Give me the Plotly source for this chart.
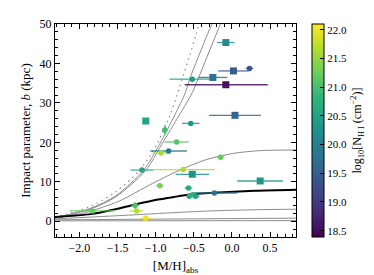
import plotly.graph_objects as go
from plotly.colors import sample_colorscale

# ---------------- data ----------------
# absorbers drawn as squares
sq_mh = [-0.08, 0.02, -0.25, -0.08, -1.13, 0.04, -0.52, 0.37]
sq_b = [45.3, 38.1, 36.45, 34.6, 25.4, 26.85, 11.9, 10.2]
sq_xlo = [0.115, 0.20, 0.19, 0.54, 0.02, 0.34, 0.22, 0.30]
sq_xhi = [0.115, 0.20, 0.19, 0.55, 0.02, 0.34, 0.22, 0.30]
sq_berr = [0, 0, 0, 0, 0, 0, 0, 0]
sq_nhi = [20.2, 19.45, 19.75, 18.55, 20.55, 19.6, 20.3, 20.35]

# absorbers drawn as circles
ci_mh = [0.23, -0.52, -0.54, -0.88, -0.725, -0.83, -0.93, -0.15, -1.18, -0.64,
         -0.945, -0.57, -0.23, -0.56, -0.51, -0.475, -1.83, -1.27, -1.25, -1.13]
ci_b = [38.75, 36.0, 24.8, 23.15, 20.1, 17.8, 17.3, 16.25, 12.97, 13.1,
        9.0, 8.4, 7.15, 6.3, 6.7, 6.3, 2.6, 4.0, 2.6, 0.74]
ci_xlo = [0.05, 0.30, 0.115, 0.02, 0.16, 0.24, 0.11, 0.05, 0.15, 0.39,
          0.05, 0.05, 0.30, 0.03, 0.04, 0.05, 0.30, 0.05, 0.09, 0.07]
ci_xhi = [0.05, 0.26, 0.115, 0.02, 0.16, 0.24, 0.11, 0.05, 0.15, 0.42,
          0.05, 0.05, 0.30, 0.03, 0.04, 0.05, 0.30, 0.05, 0.09, 0.07]
ci_berr = [0, 0, 0, 1.3, 0, 0, 0, 0.6, 0, 0,
           0, 0.4, 0, 0, 0.7, 0, 0, 0.9, 0, 0]
ci_nhi = [19.35, 20.4, 20.3, 20.95, 21.1, 19.9, 21.6, 21.2, 20.55, 21.65,
          21.35, 20.65, 19.85, 20.6, 20.8, 20.5, 21.2, 21.05, 21.7, 22.0]

# model curves b([M/H])
dot_mh = [-2.32, -1.85, -1.52, -1.21, -1.0, -0.82, -0.72, -0.47, -0.43]
dot_b = [1.0, 3.8, 7.5, 12.9, 19.0, 26.4, 32.0, 47.4, 50.5]
s1_mh = [-2.32, -1.85, -1.52, -1.16, -0.95, -0.75, -0.61, -0.555, -0.32, -0.25]
s1_b = [0.9, 3.3, 6.5, 12.9, 19.5, 26.9, 32.6, 36.0, 47.4, 50.5]
s2_mh = [-2.32, -1.85, -1.52, -1.13, -0.92, -0.69, -0.52, -0.446, -0.206, -0.14]
s2_b = [0.8, 3.1, 6.2, 12.9, 19.5, 26.9, 32.6, 36.0, 47.4, 50.5]
g3_mh = [-2.32, -1.92, -1.48, -1.04, -0.69, -0.34, 0.02, 0.37, 0.84]
g3_b = [0.8, 2.2, 5.1, 9.6, 12.9, 15.6, 17.2, 17.9, 18.06]
k_mh = [-2.32, -1.85, -1.54, -1.28, -0.97, -0.71, -0.58, -0.24, 0.3, 0.84]
k_b = [1.1, 1.8, 3.0, 4.2, 5.5, 6.3, 6.7, 7.2, 7.7, 7.95]
g5_mh = [-2.32, -1.8, -1.3, -0.84, -0.3, 0.3, 0.84]
g5_b = [0.6, 1.1, 1.6, 2.1, 2.6, 2.9, 3.05]
g6_mh = [-2.32, -1.0, 0.84]
g6_b = [0.35, 0.55, 0.78]
g7_mh = [-2.32, 0.84]
g7_b = [0.1, 0.15]

NMIN, NMAX = 18.39, 22.1
XMIN, XMAX = -2.32, 0.84
YMIN, YMAX = -4.0, 50.0

FONT = "Liberation Serif"


def vcol(v):
    return sample_colorscale("Viridis", [(v - NMIN) / (NMAX - NMIN)])[0]


fig = go.Figure()

# curves
for cx, cy, dash, col, w, shape in [
    (g7_mh, g7_b, "solid", "#8c8c8c", 1.0, "linear"),
    (g6_mh, g6_b, "solid", "#8c8c8c", 1.0, "linear"),
    (g5_mh, g5_b, "solid", "#8c8c8c", 1.0, "spline"),
    (g3_mh, g3_b, "solid", "#8c8c8c", 1.0, "spline"),
    (s1_mh, s1_b, "solid", "#8c8c8c", 1.0, "spline"),
    (s2_mh, s2_b, "solid", "#8c8c8c", 1.0, "spline"),
    (dot_mh, dot_b, "1.5px,4px", "#8c8c8c", 1.2, "spline"),
    (k_mh, k_b, "solid", "black", 2.0, "spline"),
]:
    line = dict(color=col, width=w, dash=dash, shape=shape)
    if shape == "spline":
        line["smoothing"] = 0.8
    fig.add_trace(go.Scatter(x=cx, y=cy, mode="lines", line=line,
                             showlegend=False, hoverinfo="skip"))

# error bars, one per point in its own colour
for xs, ys, lo, hi, be, ns in [(sq_mh, sq_b, sq_xlo, sq_xhi, sq_berr, sq_nhi),
                               (ci_mh, ci_b, ci_xlo, ci_xhi, ci_berr, ci_nhi)]:
    for x, y, l, h, e, n in zip(xs, ys, lo, hi, be, ns):
        c = vcol(n)
        fig.add_trace(go.Scatter(
            x=[x], y=[y], mode="markers",
            marker=dict(size=1, opacity=0),
            error_x=dict(type="data", symmetric=False, array=[h], arrayminus=[l],
                         color=c, thickness=1.3, width=0),
            error_y=dict(type="data", array=[e], color=c, thickness=1.3, width=0,
                         visible=e > 0),
            opacity=0.85, showlegend=False, hoverinfo="skip"))

cbar = dict(
    x=1.066, xanchor="left", y=0.5, yanchor="middle", len=1.0, lenmode="fraction",
    thickness=12, xpad=0, ypad=0, outlinecolor="black", outlinewidth=1,
    ticks="inside", ticklen=4, tickcolor="black",
    tickvals=[18.5, 19.0, 19.5, 20.0, 20.5, 21.0, 21.5, 22.0],
    ticktext=["18.5", "19.0", "19.5", "20.0", "20.5", "21.0", "21.5", "22.0"],
    tickfont=dict(family=FONT, size=11, color="black"),
    title=dict(text="log<sub>10</sub>[N<sub>H I</sub> (cm<sup>−2</sup>)]", side="right",
               font=dict(family=FONT, size=12, color="black")),
)

fig.add_trace(go.Scatter(
    x=sq_mh, y=sq_b, mode="markers",
    marker=dict(symbol="square", size=7, color=sq_nhi, colorscale="Viridis",
                cmin=NMIN, cmax=NMAX, showscale=True, colorbar=cbar, line=dict(width=0)),
    showlegend=False))
fig.add_trace(go.Scatter(
    x=ci_mh, y=ci_b, mode="markers",
    marker=dict(symbol="circle", size=5.5, color=ci_nhi, colorscale="Viridis",
                cmin=NMIN, cmax=NMAX, showscale=False, line=dict(width=0)),
    showlegend=False))

axis_common = dict(showline=True, linecolor="black", linewidth=1, mirror="allticks",
                   ticks="inside", ticklen=5, tickwidth=1, tickcolor="black",
                   showgrid=False, zeroline=False,
                   tickfont=dict(family=FONT, size=12, color="black"))

fig.update_xaxes(range=[XMIN, XMAX], tickvals=[-2.0, -1.5, -1.0, -0.5, 0.0, 0.5],
                 tickformat=".1f",
                 minor=dict(dtick=0.1, ticks="inside", ticklen=3, tickcolor="black", showgrid=False),
                 title=dict(text="[M/H]<sub>abs</sub>", font=dict(family=FONT, size=13, color="black"),
                            standoff=6),
                 **axis_common)
fig.update_yaxes(range=[YMIN, YMAX], tickvals=[0, 10, 20, 30, 40, 50],
                 minor=dict(dtick=2, ticks="inside", ticklen=3, tickcolor="black", showgrid=False),
                 title=dict(text="Impact parameter, <i>b</i> (kpc)",
                            font=dict(family=FONT, size=13, color="black"), standoff=6),
                 **axis_common)

fig.update_layout(width=374, height=275, margin=dict(l=47, r=86, t=9, b=46),
                  paper_bgcolor="white", plot_bgcolor="white",
                  font=dict(family=FONT, color="black"))

fig.write_html("out.html")
